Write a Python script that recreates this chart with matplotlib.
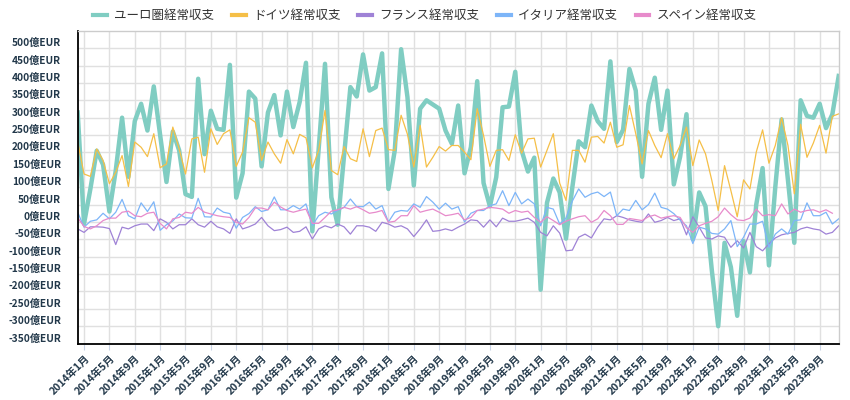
import numpy as np
import pandas as pd
import matplotlib
matplotlib.use("Agg")
from matplotlib import pyplot as plt

plt.rcParams['font.family'] = ['Noto Sans CJK JP', 'DejaVu Sans']

# monthly, 2013-12 .. 2023-12 (億EUR)
months = pd.date_range('2013-12-01', periods=121, freq='MS')

euro = [315, -5, 95, 205, 165, 30, 148, 300, 130, 290,
        340, 263, 390, 250, 115, 260, 206, 80, 72, 412,
        195, 320, 268, 265, 452, 70, 140, 375, 355, 160,
        315, 365, 249, 375, 273, 345, 458, -27, 210, 455,
        71, -8, 190, 388, 361, 482, 378, 388, 485, 95,
        206, 497, 359, 105, 326, 350, 338, 326, 263, 225,
        335, 140, 215, 405, 112, 45, 129, 330, 332, 432,
        206, 145, 185, -195, 55, 125, 85, -48, 100, 232,
        215, 335, 290, 268, 462, 230, 265, 440, 378, 130,
        340, 415, 265, 378, 108, 188, 310, -50, 85, 45,
        -140, -300, -60, -130, -270, -55, -145, 50, 155, -125,
        100, 295, 120, -60, 350, 305, 300, 340, 270, 310,
        420]
germany = [230, 138, 131, 210, 177, 110, 143, 191, 102, 230,
           215, 188, 254, 156, 167, 273, 210, 138, 239, 244,
           143, 268, 223, 254, 265, 160, 201, 300, 287, 177,
           230, 196, 169, 237, 196, 252, 242, 156, 206, 321,
           148, 136, 217, 182, 174, 268, 188, 263, 270, 208,
           206, 307, 252, 158, 278, 158, 186, 217, 204, 220,
           220, 201, 179, 326, 249, 160, 206, 208, 177, 251,
           198, 239, 241, 158, 206, 254, 112, 62, 206, 206,
           172, 244, 246, 227, 287, 215, 222, 335, 254, 167,
           263, 220, 185, 254, 182, 220, 273, 162, 236, 196,
           119, 33, 162, 90, 15, 121, 95, 201, 265, 169,
           220, 300, 220, 81, 281, 186, 227, 278, 198, 304,
           311]
france = [-20, -30, -14, -14, -15, -19, -65, -15, -20, -11,
          -6, -6, -25, 9, -1, -20, -8, -8, 9, -8,
          -15, 2, -14, -20, -33, 9, -20, -14, -6, 13,
          -11, -25, -22, -15, -30, -27, -14, -49, -20, -11,
          -17, -6, -14, -35, -11, -11, -15, -27, -1, -6,
          -15, -11, -20, -42, -20, 6, -27, -25, -20, -25,
          -15, -6, 6, 4, -15, 6, -14, 11, 2, 2,
          6, 11, -1, -30, -40, -11, -32, -83, -81, -44,
          -35, -46, -15, 9, 6, 18, 13, 6, 2, -1,
          23, -1, 4, 13, 4, 9, -37, 15, -15, -46,
          -49, -40, -44, -73, -54, -75, -30, -71, -83, -63,
          -46, -37, -33, -30, -20, -15, -20, -23, -35, -30,
          -11]
italy = [28, -15, 2, 6, 25, 9, 28, 65, 18, 9,
         55, 30, 58, -24, -8, 3, 23, 12, 11, 68,
         15, 14, 40, 28, 24, -18, 13, 24, 44, 30,
         35, 72, 35, 35, 47, 37, 52, -10, 18, 28,
         23, 33, 42, 66, 44, 44, 57, 37, 47, 0,
         28, 33, 31, 52, 42, 73, 57, 37, 54, 37,
         44, 0, 25, 33, 33, 47, 52, 90, 47, 85,
         52, 66, 52, -11, 42, 37, -6, 11, 60, 95,
         71, 81, 86, 73, 86, 18, 37, 33, 62, 35,
         50, 83, 42, 37, 24, 5, -11, -62, -15, -20,
         -33, -35, -20, 4, -71, -44, -6, -6, 2, -73,
         -35, -20, -35, 4, 6, 55, 18, 18, 28, -6,
         9]
spain = [12, -13, -20, -11, 4, 11, 11, 28, 31, 18,
         15, 25, 28, -4, -20, 9, 13, 28, 25, 42,
         28, 23, 18, 15, 13, -1, -6, 13, 40, 40,
         35, 57, 43, 33, 28, 33, 37, -4, -4, 13,
         31, 35, 42, 37, 44, 35, 25, 28, 33, -1,
         2, 18, 18, 47, 28, 33, 37, 28, 18, 21,
         25, 6, 13, 33, 37, 42, 40, 37, 25, 33,
         28, 31, 13, -1, 15, 4, -8, 2, 9, 15,
         18, -1, 9, 33, 18, -7, -7, 10, 7, 4,
         15, 20, 11, 15, 18, 13, -17, -30, -11, -4,
         2, 15, 40, 21, 6, 4, 11, 37, 18, 21,
         18, 52, 23, 37, 28, 33, 35, 28, 35, 25,
         np.nan]

names = ['ユーロ圏経常収支', 'ドイツ経常収支', 'フランス経常収支', 'イタリア経常収支', 'スペイン経常収支']
colors = ['#80cdc2', '#f5bf47', '#9f82d6', '#7db5f8', '#e78bcb']
widths = [3.2, 0.9, 0.9, 0.9, 0.9]

fig = plt.figure(figsize=(8.5, 4), dpi=100)
ax = fig.add_axes([0.0914, 0.141, 0.8953, 0.782])

x = np.arange(len(months))
for vals, name, c, w in zip([euro, germany, france, italy, spain], names, colors, widths):
    ax.plot(x, vals, color=c, lw=w, label=name, solid_joinstyle='round')

ax.set_xlim(0, len(months) - 1)
ax.set_ylim(-350, 550)
ax.set_yticks(np.arange(-350, 501, 50))
ax.set_yticklabels([f'{v}億EUR' for v in range(-350, 501, 50)])
tick_idx = x[1::4]
ax.set_xticks(tick_idx)
ax.set_xticklabels([f'{months[i].year}年{months[i].month}月' for i in tick_idx],
                   rotation=45, ha='right', rotation_mode='anchor')

ax.grid(True, color='#e0e0e0', lw=1)
ax.set_axisbelow(True)
ax.tick_params(axis='y', length=0, pad=12, labelsize=7.3, labelcolor='#22384a')
ax.tick_params(axis='x', length=4, color='#c9d4e6', pad=3, labelsize=7.5, labelcolor='#22384a')
for lab in ax.get_yticklabels():
    lab.set_fontweight('bold')
    lab.set_va('bottom')
for lab in ax.get_xticklabels():
    lab.set_fontweight('bold')

for s in ['left', 'bottom']:
    ax.spines[s].set_color('black')
    ax.spines[s].set_linewidth(1.3)
for s in ['top', 'right']:
    ax.spines[s].set_color('#cccccc')
    ax.spines[s].set_linewidth(1)

leg = fig.legend(loc='center', bbox_to_anchor=(0.5, 0.96), ncol=5, frameon=False,
                 fontsize=9, handlelength=1.1, handletextpad=0.6, columnspacing=1.4)
for h in leg.get_lines():
    h.set_linewidth(3)
for t in leg.get_texts():
    t.set_color('#333333')

fig.savefig('out.png', dpi=100)
